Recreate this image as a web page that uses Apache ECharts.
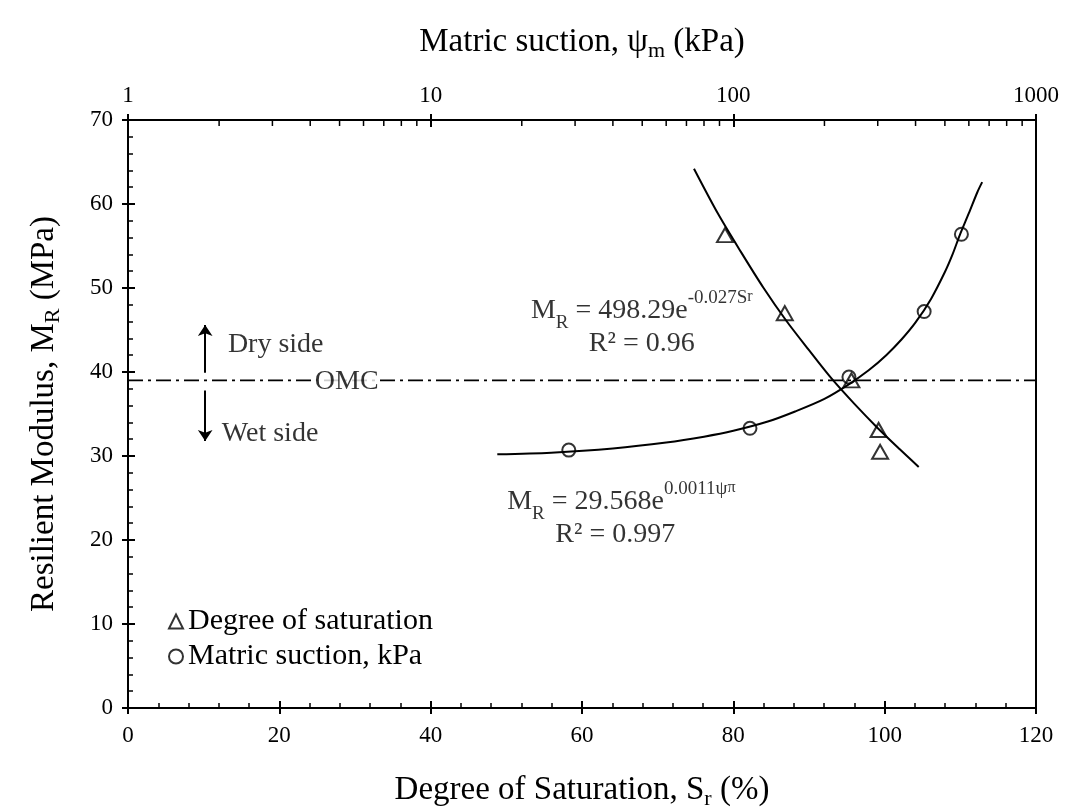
<!DOCTYPE html>
<html>
<head>
<meta charset="utf-8">
<script src="https://cdn.jsdelivr.net/npm/echarts@6/dist/echarts.min.js"></script>
<style>html,body{margin:0;padding:0;background:#fff;}#c{width:1065px;height:807px;}</style>
</head>
<body>
<div id="c"></div>
<script>
// ---- data ----
const satX = [78.9, 86.8, 95.6, 99.2, 99.4];          // degree of saturation (%)
const satY = [56.3, 47.0, 39.0, 33.1, 30.5];          // MR (MPa)
const sucX = [28.6, 113.5, 241, 427, 567];            // matric suction (kPa)
const sucY = [30.7, 33.3, 39.4, 47.2, 56.4];          // MR (MPa)
const satFitX = [74.8, 78, 81, 84, 87, 90, 93, 96, 99, 102, 104.5];
const satFitY = [64.2, 58.8, 54.3, 50.0, 46.1, 42.6, 39.2, 36.2, 33.4, 30.8, 28.7];
const sucFitX = [16.6, 25, 40, 60, 80, 100, 130, 160, 200, 240, 280, 320, 360, 400, 450, 500, 530, 560, 600, 640, 664];
const sucFitY = [30.2, 30.4, 30.9, 31.6, 32.3, 33.0, 34.1, 35.3, 36.8, 38.5, 40.2, 42.0, 43.9, 45.9, 48.7, 51.9, 54.0, 56.3, 58.9, 61.4, 62.6];
const omcValue = 39;
const topMinorTicks = [2,3,4,5,6,7,8,9,20,30,40,50,60,70,80,90,200,300,400,500,600,700,800,900];
const bottomTicks = { min: 0, max: 120, interval: 20 };
const leftTicks = { min: 0, max: 70, interval: 10 };
const topTicks = { min: 1, max: 1000 };
const legendNames = ['Degree of saturation', 'Matric suction, kPa'];

const FONT = 'Liberation Serif';
const zip = (a, b) => a.map((v, i) => [v, b[i]]);
const black = '#000';

const chart = echarts.init(document.getElementById('c'), null, { renderer: 'canvas' });

const mkLine = () => ({ show: true, onZero: false, lineStyle: { color: black, width: 2 } });
const labelStyle = () => ({ color: black, fontFamily: FONT, fontSize: 23 });
const titleRich = () => ({ rich: {
  t: { fontFamily: FONT, fontSize: 33, color: black, lineHeight: 40 },
  sub: { fontFamily: FONT, fontSize: 22, color: black, verticalAlign: 'bottom', lineHeight: 32 }
} });

const option = {
  backgroundColor: '#fff',
  animation: false,
  grid: { left: 128, right: 29, top: 120, bottom: 99, containLabel: false, outerBoundsMode: 'none' },
  legend: {
    orient: 'vertical', left: 168, top: 604, itemGap: 0, padding: 0,
    itemWidth: 14, itemHeight: 14,
    data: legendNames,
    textStyle: { color: black, fontFamily: FONT, fontSize: 30, lineHeight: 35 }
  },
  xAxis: [
    { // bottom main
      type: 'value', position: 'bottom', min: bottomTicks.min, max: bottomTicks.max, interval: bottomTicks.interval,
      name: '{t|Degree of Saturation, S}{sub|r}{t| (%)}', nameLocation: 'middle', nameGap: 62,
      nameTextStyle: titleRich(),
      axisLine: mkLine(), splitLine: { show: false },
      axisTick: { show: true, inside: true, length: 7, lineStyle: { color: black, width: 2 } },
      minorTick: { show: true, splitNumber: 5, length: 5, lineStyle: { color: black, width: 1.5 } },
      axisLabel: Object.assign({ margin: 16 }, labelStyle())
    },
    { // top log
      type: 'log', logBase: 10, position: 'top', min: topTicks.min, max: topTicks.max,
      name: '{t|Matric suction, ψ}{sub|m}{t| (kPa)}', nameLocation: 'middle', nameGap: 58,
      nameTextStyle: titleRich(),
      axisLine: mkLine(), splitLine: { show: false },
      axisTick: { show: true, inside: true, length: 7, lineStyle: { color: black, width: 2 } },
      axisLabel: Object.assign({ margin: 13, formatter: v => String(v) }, labelStyle())
    },
    { // bottom outer ticks
      type: 'value', position: 'bottom', min: bottomTicks.min, max: bottomTicks.max, interval: bottomTicks.interval,
      axisLine: { show: false, onZero: false }, splitLine: { show: false }, axisLabel: { show: false },
      axisTick: { show: true, inside: false, length: 6, lineStyle: { color: black, width: 2 } }
    },
    { // top outer ticks
      type: 'log', logBase: 10, position: 'top', min: topTicks.min, max: topTicks.max,
      axisLine: { show: false, onZero: false }, splitLine: { show: false }, axisLabel: { show: false },
      axisTick: { show: true, inside: false, length: 6, lineStyle: { color: black, width: 2 } }
    }
  ],
  yAxis: [
    {
      type: 'value', position: 'left', min: leftTicks.min, max: leftTicks.max, interval: leftTicks.interval,
      name: '{t|Resilient Modulus, M}{sub|R}{t| (MPa)}', nameLocation: 'middle', nameGap: 64,
      nameTextStyle: titleRich(),
      axisLine: mkLine(), splitLine: { show: false },
      axisTick: { show: true, inside: true, length: 7, lineStyle: { color: black, width: 2 } },
      minorTick: { show: true, splitNumber: 5, length: 5, lineStyle: { color: black, width: 1.5 } },
      axisLabel: Object.assign({ margin: 15 }, labelStyle())
    },
    {
      type: 'value', position: 'left', min: leftTicks.min, max: leftTicks.max, interval: leftTicks.interval,
      axisLine: { show: false, onZero: false }, splitLine: { show: false }, axisLabel: { show: false },
      axisTick: { show: true, inside: false, length: 6, lineStyle: { color: black, width: 2 } }
    },
    {
      type: 'value', position: 'right', min: leftTicks.min, max: leftTicks.max,
      axisLine: mkLine(), splitLine: { show: false }, axisLabel: { show: false }, axisTick: { show: false }
    }
  ],
  series: [
    { // OMC line
      type: 'line', xAxisIndex: 0, yAxisIndex: 0, symbol: 'none', silent: true,
      data: [[bottomTicks.min, omcValue], [bottomTicks.max, omcValue]],
      lineStyle: { color: black, width: 1.6, type: [15, 5, 3, 5] }, z: 1
    },
    { // fitted curve, saturation
      type: 'line', xAxisIndex: 0, yAxisIndex: 0, symbol: 'none', smooth: 0.3,
      data: zip(satFitX, satFitY), lineStyle: { color: black, width: 2 }, z: 2
    },
    { // fitted curve, suction
      type: 'line', xAxisIndex: 1, yAxisIndex: 0, symbol: 'none', smooth: 0.3,
      data: zip(sucFitX, sucFitY), lineStyle: { color: black, width: 2 }, z: 2
    },
    {
      name: legendNames[0], type: 'scatter', xAxisIndex: 0, yAxisIndex: 0,
      symbol: 'triangle', symbolSize: [16, 14],
      itemStyle: { color: 'rgba(255,255,255,0)', borderColor: black, borderWidth: 2 },
      data: zip(satX, satY), z: 5
    },
    {
      name: legendNames[1], type: 'scatter', xAxisIndex: 1, yAxisIndex: 0,
      symbol: 'circle', symbolSize: 13,
      itemStyle: { color: 'rgba(255,255,255,0)', borderColor: black, borderWidth: 2 },
      data: zip(sucX, sucY), z: 5
    },
    { // top minor ticks (log)
      type: 'custom', xAxisIndex: 1, yAxisIndex: 0, silent: true,
      data: topMinorTicks.map(v => [v, leftTicks.max]),
      renderItem: function (params, api) {
        const p = api.coord([api.value(0), api.value(1)]);
        return { type: 'line', shape: { x1: p[0], y1: p[1], x2: p[0], y2: p[1] + 6 }, style: { stroke: black, lineWidth: 1.5 } };
      }, z: 3
    },
    { // arrows dry/wet
      type: 'lines', coordinateSystem: 'cartesian2d', xAxisIndex: 0, yAxisIndex: 0, silent: true,
      symbol: ['none', 'arrow'], symbolSize: 11,
      lineStyle: { color: black, width: 2, opacity: 1 },
      data: [
        { coords: [[10.2, 39.9], [10.2, 45.6]] },
        { coords: [[10.2, 37.8], [10.2, 31.8]] }
      ], z: 3
    },
    { // text annotations
      type: 'scatter', xAxisIndex: 0, yAxisIndex: 0, symbolSize: 0, silent: true, z: 6,
      label: {
        show: true, position: 'inside', color: black, fontFamily: FONT, fontSize: 28,
        formatter: p => p.data.t,
        rich: {
          t: { fontFamily: FONT, fontSize: 28, color: black, lineHeight: 34 },
          sub: { fontFamily: FONT, fontSize: 19, color: black, verticalAlign: 'bottom', lineHeight: 26 },
          sup: { fontFamily: FONT, fontSize: 19, color: black, verticalAlign: 'top', lineHeight: 44 },
          supsub: { fontFamily: FONT, fontSize: 16, color: black, verticalAlign: 'top', lineHeight: 38 }
        }
      },
      data: [
        { value: [28.9, omcValue], t: 'OMC', label: { backgroundColor: '#fff', padding: [0, 1], offset: [0, 1] } },
        { value: [13.2, 43.25], t: 'Dry side', label: { align: 'left' } },
        { value: [12.4, 32.7], t: 'Wet side', label: { align: 'left' } },
        { value: [67.9, 47.3], t: '{t|M}{sub|R}{t| = 498.29e}{sup|-0.027S}{supsub|r}' },
        { value: [67.9, 43.4], t: '{t|R² = 0.96}' },
        { value: [65.2, 24.6], t: '{t|M}{sub|R}{t| = 29.568e}{sup|0.0011ψ}{supsub|π}' },
        { value: [64.4, 20.65], t: '{t|R² = 0.997}' }
      ]
    }
  ]
};
chart.setOption(option);
</script>
</body>
</html>
